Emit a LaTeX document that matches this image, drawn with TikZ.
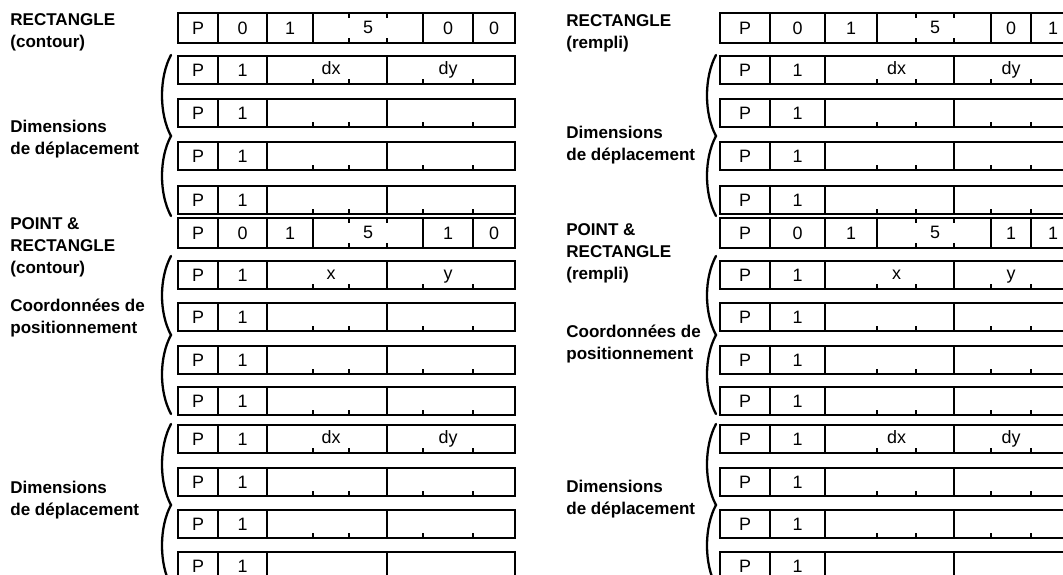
\documentclass[tikz,border=0pt]{standalone}
\usepackage{fontspec}
\setmainfont{Liberation Sans}
\usepackage{tikz}

\begin{document}
\begin{tikzpicture}[
    x=0.02cm, y=-0.02cm,
    cell/.style={draw, line width=1pt},
    tck/.style={line width=0.9pt},
    ctxt/.style={font=\fontsize{10.2}{12}\selectfont, inner sep=0pt, anchor=base},
    lbl/.style={font=\fontsize{9.7}{12.6}\selectfont\bfseries, align=left, anchor=west, inner sep=0pt},
    brc/.style={line width=1.3pt, line cap=round}
]
    \clip (0,0) rectangle (1063,575);

    % labels, left column
    \node[lbl] (lRect) at (10,32) {RECTANGLE\\(contour)};
    \node[lbl] (lDimA) at (10,139) {Dimensions\\de déplacement};
    \node[lbl] (lPoint) at (10,247) {POINT \&\\RECTANGLE\\(contour)};
    \node[lbl] (lCoord) at (10,318) {Coordonnées de\\positionnement};
    \node[lbl] (lDimB) at (10,500) {Dimensions\\de déplacement};
    % labels, right column
    \node[lbl] (rRect) at (566,33) {RECTANGLE\\(rempli)};
    \node[lbl] (rDimA) at (566,145) {Dimensions\\de déplacement};
    \node[lbl] (rPoint) at (566,253) {POINT \&\\RECTANGLE\\(rempli)};
    \node[lbl] (rCoord) at (566,344) {Coordonnées de\\positionnement};
    \node[lbl] (rDimB) at (566,499) {Dimensions\\de déplacement};

    \foreach \pn/\ca/\cb/\cc/\cd/\ce/\cf/\cg/\ch/\ci/\hd/\bx in
        {L/178/218/267/313/349/387/423/473/515/0/166,
         R/720/770/825/877/916/954/991/1031/1075/1/711} {
        % command header rows
        \foreach \hy/\hn/\hv in {28/ha/0, 233/hb/1} {
            \draw[cell] (\ca,\hy-15) rectangle (\ci,\hy+15);
            \foreach \vx in {\cb,\cc,\cd,\cg,\ch}
                \draw[cell] (\vx,\hy-15) -- (\vx,\hy+15);
            \foreach \tx in {\ce,\cf} {
                \draw[tck] (\tx,\hy-15) -- (\tx,\hy-10);
                \draw[tck] (\tx,\hy+15) -- (\tx,\hy+10);
            }
            \node[ctxt] (\pn-\hn-p) at ({(\ca+\cb)/2},\hy+6) {P};
            \node[ctxt] (\pn-\hn-a) at ({(\cb+\cc)/2},\hy+6) {0};
            \node[ctxt] (\pn-\hn-b) at ({(\cc+\cd)/2},\hy+6) {1};
            \node[ctxt] (\pn-\hn-c) at ({(\ce+\cf)/2},\hy+5) {5};
            \node[ctxt] (\pn-\hn-d) at ({(\cg+\ch)/2},\hy+6) {\hv};
            \node[ctxt] (\pn-\hn-e) at ({(\ch+\ci)/2},\hy+6) {\hd};
        }
        % data rows
        \foreach \ry/\rn/\ta/\tb in {70/r1/dx/dy, 113/r2/{}/{}, 156/r3/{}/{}, 200/r4/{}/{},
                                     275/r5/x/y, 317/r6/{}/{}, 360/r7/{}/{}, 401/r8/{}/{},
                                     439/r9/dx/dy, 482/r10/{}/{}, 524/r11/{}/{}, 566/r12/{}/{}} {
            \draw[cell] (\ca,\ry-14) rectangle (\ci,\ry+14);
            \foreach \vx in {\cb,\cc,\cf}
                \draw[cell] (\vx,\ry-14) -- (\vx,\ry+14);
            \foreach \tx in {\cd,\ce,\cg,\ch}
                \draw[tck] (\tx,\ry+14) -- (\tx,\ry+9);
            \node[ctxt] (\pn-\rn-p) at ({(\ca+\cb)/2},\ry+6) {P};
            \node[ctxt] (\pn-\rn-a) at ({(\cb+\cc)/2},\ry+6) {1};
            \node[ctxt] (\pn-\rn-x) at ({(\cd+\ce)/2},\ry+4) {\ta};
            \node[ctxt] (\pn-\rn-y) at ({(\cg+\ch)/2},\ry+4) {\tb};
        }
        % braces
        \foreach \ya/\ym/\yb in {55/136/216, 256/335/414, 424/505/586}
            \draw[brc] (\bx+5,\ya) .. controls (\bx-7,\ya+22) and (\bx-7,\ym-22) .. (\bx+5,\ym)
                       .. controls (\bx-7,\ym+22) and (\bx-7,\yb-22) .. (\bx+5,\yb);
    }
\end{tikzpicture}
\end{document}
